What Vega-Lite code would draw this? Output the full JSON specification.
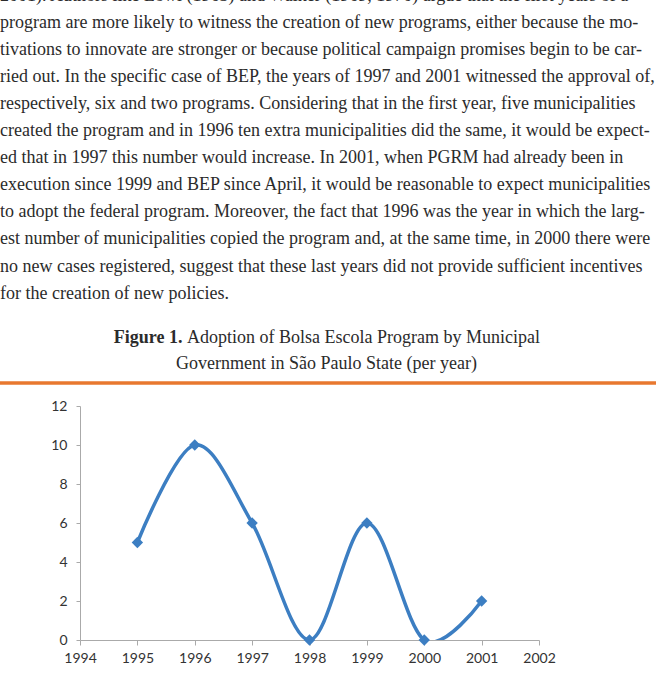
{
  "$schema": "https://vega.github.io/schema/vega-lite/v6.json",
  "width": 459,
  "height": 234,
  "autosize": "none",
  "padding": {"left": 80, "top": 406, "right": 123, "bottom": 52},
  "background": "white",
  "config": {"view": {"stroke": null}},
  "datasets": {
    "paragraph": [
      {"line": 0, "text": "2001). Authors like Lowi (1963) and Walker (1969, 1970) argue that the first years of a"},
      {"line": 1, "text": "program are more likely to witness the creation of new programs, either because the mo-"},
      {"line": 2, "text": "tivations to innovate are stronger or because political campaign promises begin to be car-"},
      {"line": 3, "text": "ried out. In the specific case of BEP, the years of 1997 and 2001 witnessed the approval of,"},
      {"line": 4, "text": "respectively, six and two programs. Considering that in the first year, five municipalities"},
      {"line": 5, "text": "created the program and in 1996 ten extra municipalities did the same, it would be expect-"},
      {"line": 6, "text": "ed that in 1997 this number would increase. In 2001, when PGRM had already been in"},
      {"line": 7, "text": "execution since 1999 and BEP since April, it would be reasonable to expect municipalities"},
      {"line": 8, "text": "to adopt the federal program. Moreover, the fact that 1996 was the year in which the larg-"},
      {"line": 9, "text": "est number of municipalities copied the program and, at the same time, in 2000 there were"},
      {"line": 10, "text": "no new cases registered, suggest that these last years did not provide sufficient incentives"},
      {"line": 11, "text": "for the creation of new policies."}
    ],
    "caption": [
      {"line": 0, "part": "label", "text": "Figure 1."},
      {"line": 0, "part": "title", "text": "Adoption of Bolsa Escola Program by Municipal"},
      {"line": 1, "part": "title2", "text": "Government in São Paulo State (per year)"}
    ],
    "adoption": [
      {"year": 1995, "programs": 5},
      {"year": 1996, "programs": 10},
      {"year": 1997, "programs": 6},
      {"year": 1998, "programs": 0},
      {"year": 1999, "programs": 6},
      {"year": 2000, "programs": 0},
      {"year": 2001, "programs": 2}
    ]
  },
  "layer": [
    {
      "data": {"name": "paragraph"},
      "mark": {"type": "text", "align": "left", "baseline": "alphabetic", "font": "Liberation Serif", "fontSize": 18, "color": "#2b2b2b"},
      "encoding": {
        "y": {"field": "line", "type": "quantitative", "scale": {"domain": [0, 11], "range": [-405.5, -107.4], "nice": false, "zero": false}, "axis": null},
        "x": {"datum": 0, "type": "quantitative", "scale": {"domain": [0, 662], "range": [-80, 582], "nice": false, "zero": false}, "axis": null},
        "text": {"field": "text"}
      }
    },
    {
      "data": {"name": "caption"},
      "encoding": {
        "y": {"field": "line", "type": "quantitative", "scale": {"domain": [0, 1], "range": [-63, -37], "nice": false, "zero": false}, "axis": null},
        "text": {"field": "text"}
      },
      "layer": [
        {
          "transform": [{"filter": "datum.part === 'label'"}],
          "mark": {"type": "text", "align": "right", "baseline": "alphabetic", "font": "Liberation Serif", "fontSize": 18, "fontWeight": "bold", "color": "#2b2b2b"},
          "encoding": {"x": {"datum": 182.5, "type": "quantitative", "scale": {"domain": [0, 662], "range": [-80, 582], "nice": false, "zero": false}, "axis": null}}
        },
        {
          "transform": [{"filter": "datum.part === 'title'"}],
          "mark": {"type": "text", "align": "left", "baseline": "alphabetic", "font": "Liberation Serif", "fontSize": 18, "color": "#2b2b2b"},
          "encoding": {"x": {"datum": 187, "type": "quantitative", "axis": null}}
        },
        {
          "transform": [{"filter": "datum.part === 'title2'"}],
          "mark": {"type": "text", "align": "center", "baseline": "alphabetic", "font": "Liberation Serif", "fontSize": 18, "color": "#2b2b2b"},
          "encoding": {"x": {"datum": 326.5, "type": "quantitative", "axis": null}}
        }
      ]
    },
    {
      "data": {"values": [{"rule": "separator"}]},
      "mark": {"type": "rule", "color": "#E8782F", "strokeWidth": 3.5},
      "encoding": {
        "x": {"datum": 0, "type": "quantitative", "scale": {"domain": [0, 662], "range": [-80, 582], "nice": false, "zero": false}, "axis": null},
        "x2": {"datum": 656},
        "y": {"datum": 0, "type": "quantitative", "scale": {"domain": [0, 1], "range": [-23, 0], "nice": false, "zero": false}, "axis": null}
      }
    },
    {
      "data": {"name": "adoption"},
      "encoding": {
        "x": {
          "field": "year", "type": "quantitative",
          "scale": {"domain": [1994, 2002], "nice": false, "zero": false},
          "axis": {
            "orient": "bottom", "title": null, "grid": false,
            "values": [1994, 1995, 1996, 1997, 1998, 1999, 2000, 2001, 2002],
            "format": "d", "labelFlush": false, "labelOverlap": false,
            "tickSize": 5, "labelPadding": 6,
            "domainColor": "#aaaaaa", "tickColor": "#aaaaaa",
            "labelFont": "Lato", "labelFontSize": 14, "labelColor": "#333333"
          }
        },
        "y": {
          "field": "programs", "type": "quantitative",
          "scale": {"domain": [0, 12], "nice": false, "zero": false},
          "axis": {
            "orient": "left", "title": null, "grid": false,
            "values": [0, 2, 4, 6, 8, 10, 12],
            "labelFlush": false, "labelOverlap": false,
            "tickSize": 4, "labelPadding": 9,
            "domainColor": "#aaaaaa", "tickColor": "#aaaaaa",
            "labelFont": "Lato", "labelFontSize": 14, "labelColor": "#333333"
          }
        }
      },
      "layer": [
        {"mark": {"type": "line", "interpolate": "cardinal", "clip": true, "color": "#3C7EC2", "strokeWidth": 3.5}},
        {"mark": {"type": "point", "shape": "diamond", "filled": true, "size": 130, "color": "#3C7EC2", "opacity": 1}}
      ]
    }
  ],
  "resolve": {"scale": {"x": "independent", "y": "independent"}}
}
